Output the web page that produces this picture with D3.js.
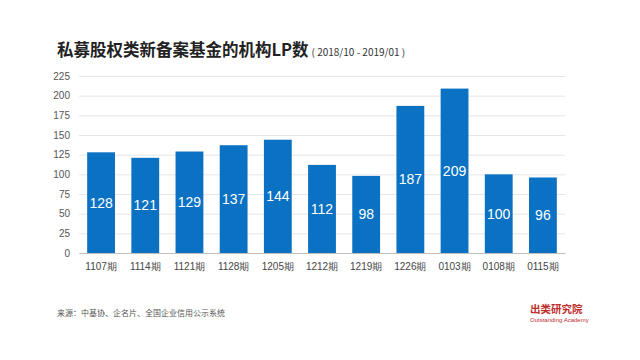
<!DOCTYPE html>
<html>
<head>
<meta charset="utf-8">
<script src="https://cdn.jsdelivr.net/npm/d3@7"></script>
<style>
  body { margin: 0; background: #fff; }
  svg { display: block; font-family: "Noto Sans CJK SC", "Noto Sans", sans-serif; }
</style>
</head>
<body>
<div id="chart"></div>
<script>
// data
const periods = ['1107期', '1114期', '1121期', '1128期', '1205期', '1212期', '1219期', '1226期', '0103期', '0108期', '0115期'];
const lpCounts = [128, 121, 129, 137, 144, 112, 98, 187, 209, 100, 96];
const yTicks = [0, 25, 50, 75, 100, 125, 150, 175, 200, 225];

const width = 640, height = 360;
const margin = { top: 76, right: 75, bottom: 107, left: 79 };

const svg = d3.select('#chart')
    .append('svg')
    .attr('width', width)
    .attr('height', height);

// Title
const title = svg.append('text')
    .attr('x', 57)
    .attr('y', 56)
    .attr('fill', '#222')
    .style('font-size', '16.5px')
    .style('font-weight', 'bold');
title.append('tspan').text('私募股权类新备案基金的机构LP数');
title.append('tspan')
    .attr('dx', 3)
    .style('font-size', '10px')
    .style('font-weight', 'normal')
    .attr('fill', '#333')
    .text('( 2018/10 - 2019/01 )');

const x = d3.scaleBand()
    .domain(periods)
    .range([margin.left, width - margin.right])
    .paddingInner(0.37)
    .paddingOuter(0.185);

const y = d3.scaleLinear()
    .domain([0, 225])
    .range([height - margin.bottom, margin.top]);

// gridlines
svg.append('g')
    .attr('transform', `translate(${margin.left},0)`)
    .call(d3.axisLeft(y).tickValues(yTicks).tickSize(-(width - margin.left - margin.right)).tickFormat(''))
    .call(g => g.select('.domain').remove())
    .selectAll('.tick line')
    .attr('stroke', '#e6e6e6');

// y axis labels
svg.append('g')
    .attr('transform', `translate(${margin.left},0)`)
    .call(d3.axisLeft(y).tickValues(yTicks).tickSize(0).tickPadding(9))
    .call(g => g.select('.domain').remove())
    .selectAll('text')
    .attr('fill', '#555')
    .style('font-size', '10px')
    .style('font-family', 'Arial, "Liberation Sans", sans-serif');

// bars
svg.selectAll('.bar')
    .data(lpCounts)
    .enter()
    .append('rect')
    .attr('class', 'bar')
    .attr('x', (d, i) => x(periods[i]))
    .attr('y', d => y(d))
    .attr('width', x.bandwidth())
    .attr('height', d => y(0) - y(d))
    .attr('fill', '#0b72c3');

// value labels in the middle of each bar
svg.selectAll('.val')
    .data(lpCounts)
    .enter()
    .append('text')
    .attr('class', 'val')
    .attr('x', (d, i) => x(periods[i]) + x.bandwidth() / 2)
    .attr('y', d => (y(d) + y(0)) / 2)
    .attr('dy', '0.35em')
    .attr('text-anchor', 'middle')
    .attr('fill', '#fff')
    .style('font-size', '14px')
    .style('font-family', 'Arial, "Liberation Sans", sans-serif')
    .text(d => d);

// x axis
svg.append('g')
    .attr('transform', `translate(0,${y(0)})`)
    .call(d3.axisBottom(x).tickSize(0).tickPadding(10))
    .call(g => g.select('.domain').attr('stroke', '#bfbfbf'))
    .selectAll('text')
    .attr('fill', '#444')
    .style('font-size', '10px');

// source note
svg.append('text')
    .attr('x', 57)
    .attr('y', 316)
    .attr('fill', '#555')
    .style('font-size', '8px')
    .text('来源：中基协、企名片、全国企业信用公示系统');

// logo
svg.append('text')
    .attr('x', 530)
    .attr('y', 313)
    .attr('fill', '#c0302e')
    .style('font-size', '10.5px')
    .style('font-weight', 'bold')
    .text('出类研究院');
svg.append('text')
    .attr('x', 530)
    .attr('y', 322)
    .attr('fill', '#c0302e')
    .style('font-size', '6px')
    .style('font-family', 'Arial, "Liberation Sans", sans-serif')
    .text('Outstanding Academy');
</script>
</body>
</html>
